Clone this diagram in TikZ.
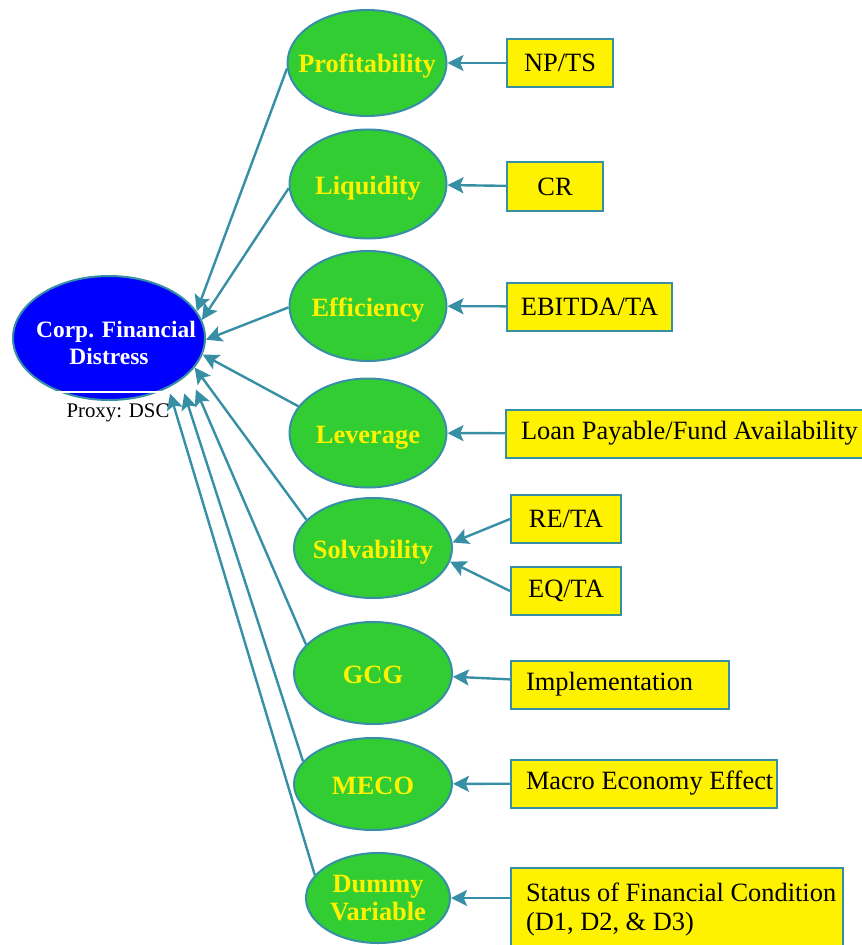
\documentclass[tikz,border=0pt]{standalone}
\usepackage{fontspec}
\setmainfont{Liberation Serif}
\usetikzlibrary{shapes.geometric,arrows.meta}

\definecolor{linkteal}{RGB}{55,143,165}
\definecolor{factorgreen}{RGB}{50,205,50}
\definecolor{distblue}{RGB}{0,0,255}

% text of a factor, kept out of the ellipse size
\newcommand{\ftext}[1]{\makebox[0pt]{\raisebox{-7.5pt}[0pt][0pt]{#1}}}
% left set text of an indicator box of width #1
\newcommand{\indline}[2]{\makebox[#1][l]{\hspace*{11.25pt}#2}}

\tikzset{every picture/.style={line width=0.75pt}}
\tikzset{
  factor/.style={ellipse, draw=linkteal, line width=1.5pt, fill=factorgreen, inner sep=0pt,
    text=yellow, font=\bfseries\fontsize{19.8}{21}\selectfont},
  ind/.style={rectangle, draw=linkteal, line width=1.5pt, fill=yellow, inner sep=0pt,
    minimum height=36pt, font=\fontsize{19.8}{21.75}\selectfont},
  link/.style={draw=linkteal, line width=1.8pt, -{Stealth[length=12pt,width=12pt,inset=2.5pt]}},
}

\begin{document}
\begin{tikzpicture}[x=0.75pt,y=0.75pt,yscale=-1,xscale=1]
\clip (0,0) rectangle (862,945);

% Ellipse
\node [ellipse, draw=linkteal, line width=1.5pt, fill=distblue, inner sep=0pt, minimum width=144pt, minimum height=93pt,
  text=white, font=\bfseries\fontsize{17.6}{20.25}\selectfont] (dist) at (109,338)
  {\makebox[0pt]{\raisebox{-9.65pt}[0pt][0pt]{\begin{tabular}{@{}c@{}}\hspace*{10.5pt}Corp. Financial\\Distress\end{tabular}}}};
%Straight Lines
\draw [white, line width=1.5pt] (50,392) -- (167,392);
% Text Node
\node [inner sep=0.75pt, font=\fontsize{15.6}{18}\selectfont] (proxy) at (118,413) {Proxy: DSC};

% Ellipse
\node [factor, minimum width=119.25pt, minimum height=79.5pt] (prof) at (367,63) {\ftext{Profitability}};
% Ellipse
\node [factor, minimum width=117.75pt, minimum height=81.75pt] (liq) at (368,184) {\ftext{Liquidity}};
% Ellipse
\node [factor, minimum width=117.75pt, minimum height=82.5pt] (eff) at (368,306) {\ftext{Efficiency}};
% Ellipse
\node [factor, minimum width=117.75pt, minimum height=81.75pt] (lev) at (368,433) {\ftext{Leverage}};
% Ellipse
\node [factor, minimum width=118.5pt, minimum height=75pt] (solv) at (373,548) {\ftext{Solvability}};
% Ellipse
\node [factor, minimum width=118.5pt, minimum height=76.5pt] (gcg) at (373,673) {\ftext{GCG}};
% Ellipse
\node [factor, minimum width=118.5pt, minimum height=69pt] (meco) at (373,784) {\ftext{MECO}};
% Ellipse
\node [factor, minimum width=108pt, minimum height=67.5pt] (dummy) at (378,898)
  {\ftext{\begin{tabular}{@{}c@{}}Dummy\\Variable\end{tabular}}};

% Text Node
\node [ind, minimum width=79.5pt] (npts) at (560,63) {NP/TS};
% Text Node
\node [ind, minimum width=72pt, minimum height=36.75pt] (cr) at (555,186.5) {CR};
% Text Node
\node [ind, minimum width=123.75pt] (ebit) at (589.5,306.5) {EBITDA/TA};
% Text Node
\node [ind] (loan) at (691.5,433.5) {\indline{278.25pt}{Loan Payable/Fund Availability}};
% Text Node
\node [ind, minimum width=82.5pt] (reta) at (566,519) {RE/TA};
% Text Node
\node [ind, minimum width=82.5pt] (eqta) at (566,591) {EQ/TA};
% Text Node
\node [ind] (impl) at (620,684.5) {\indline{163.5pt}{Implementation}};
% Text Node
\node [ind] (macro) at (644,783.5) {\indline{199.5pt}{Macro Economy Effect}};
% Text Node
\node [ind, minimum height=63pt] (status) at (677,910)
  {\indline{249pt}{\begin{tabular}{@{}l@{}}Status of Financial Condition\\(D1, D2, \& D3)\end{tabular}}};

%Straight Lines
\draw [link] (prof.184) -- (dist.17.4);
\draw [link] (liq.183) -- (dist.11);
\draw [link] (eff.181) -- (dist.-1);
\draw [link] (lev.159) -- (dist.-10);
\draw [link] (solv.157) -- (dist.-19);
\draw [link, shorten >=13pt] (gcg.157) -- (dist.-24);
\draw [link, shorten >=10pt] (meco.162) -- (dist.-31);
\draw [link, shorten >=4.5pt] (dummy.160) -- (dist.-40);

%Straight Lines
\draw [link] (npts) -- (prof);
\draw [link] (cr) -- (liq);
\draw [link] (ebit) -- (eff);
\draw [link] (loan) -- (lev);
\draw [link] (reta.west) -- (solv.4);
\draw [link] (eqta.west) -- (solv.-10);
\draw [link] (impl) -- (gcg);
\draw [link] (macro) -- (meco);
\draw [link] (status.west |- dummy.east) -- (dummy.east);
\end{tikzpicture}
\end{document}
